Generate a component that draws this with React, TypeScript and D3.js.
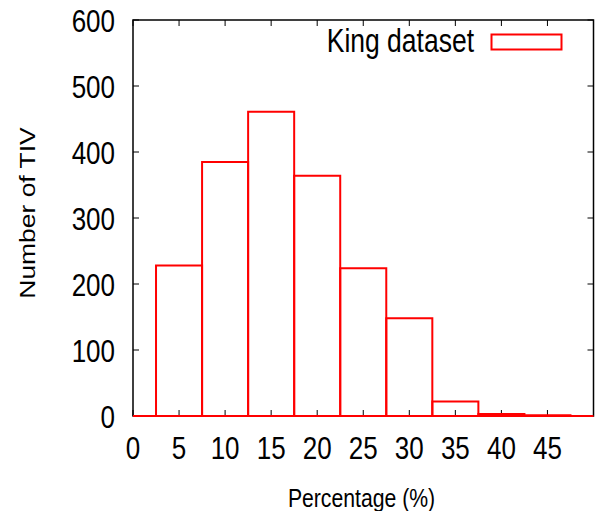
import React from "react";
import * as d3 from "d3";

const binCenters = [0, 5, 10, 15, 20, 25, 30, 35, 40, 45, 50];
const counts = [0, 228, 385, 461, 364, 224, 148, 22, 3, 1, 0];
const xTicks = [0, 5, 10, 15, 20, 25, 30, 35, 40, 45];
const yTicks = [0, 100, 200, 300, 400, 500, 600];
const seriesName = "King dataset";
const xTitle = "Percentage (%)";
const yTitle = "Number of TIV";

const W = 600, H = 511;
const L = 133, R = 593.5, T = 20, B = 416;
const binWidth = 5;
const SY = 1.23;

export default function App() {
  const x = d3.scaleLinear().domain([0, 50]).range([L, R]);
  const y = d3.scaleLinear().domain([0, 600]).range([B, T]);
  const font = "'Liberation Sans', Arial, sans-serif";
  const tick = 6;
  const barPath = (c: number, v: number) => {
    const p = d3.path();
    const x0 = x(c - binWidth / 2), x1 = x(c + binWidth / 2);
    p.moveTo(x0, y(0));
    p.lineTo(x0, y(v));
    p.lineTo(x1, y(v));
    p.lineTo(x1, y(0));
    p.closePath();
    return p.toString();
  };
  return (
    <svg width={W} height={H} style={{ position: "absolute", left: 0, top: 0 }} fontFamily={font}>
      <rect width={W} height={H} fill="#fff" />
      <defs>
        <clipPath id="plot">
          <rect x={L} y={T - 2} width={R - L} height={B - T + 4} />
        </clipPath>
      </defs>
      {/* frame */}
      <rect x={L} y={T} width={R - L} height={B - T} fill="none" stroke="#000" strokeWidth={1.5} />
      {/* ticks */}
      {xTicks.map((t) => (
        <g key={"x" + t}>
          <line x1={x(t)} x2={x(t)} y1={B} y2={B - tick} stroke="#000" strokeWidth={1} />
          <line x1={x(t)} x2={x(t)} y1={T} y2={T + tick} stroke="#000" strokeWidth={1} />
          <text transform={`translate(${x(t)}, 458.5) scale(1, ${SY})`} textAnchor="middle" fontSize={26}>{t}</text>
        </g>
      ))}
      {yTicks.map((t) => (
        <g key={"y" + t}>
          <line x1={L} x2={L + tick} y1={y(t)} y2={y(t)} stroke="#000" strokeWidth={1} />
          <line x1={R} x2={R - tick} y1={y(t)} y2={y(t)} stroke="#000" strokeWidth={1} />
          <text transform={`translate(115, ${y(t) + 11.7}) scale(1, ${SY})`} textAnchor="end" fontSize={26}>{t}</text>
        </g>
      ))}
      {/* bars */}
      <g clipPath="url(#plot)">
        {binCenters.map((c, i) => (
          <path key={"b" + c} d={barPath(c, counts[i])} fill="none" stroke="#f00" strokeWidth={2} />
        ))}
      </g>
      {/* legend */}
      <text transform={`translate(474, 51.7) scale(1, ${SY})`} textAnchor="end" fontSize={26.5}>{seriesName}</text>
      <rect x={491.5} y={34.5} width={70} height={15} fill="none" stroke="#f00" strokeWidth={2} />
      {/* titles */}
      <text transform={`translate(361.5, 506.7) scale(1, ${SY})`} textAnchor="middle" fontSize={21.2}>{xTitle}</text>
      <text transform={`translate(34.5, 213) scale(1, ${SY}) rotate(-90)`} textAnchor="middle" fontSize={21.5}>{yTitle}</text>
    </svg>
  );
}
